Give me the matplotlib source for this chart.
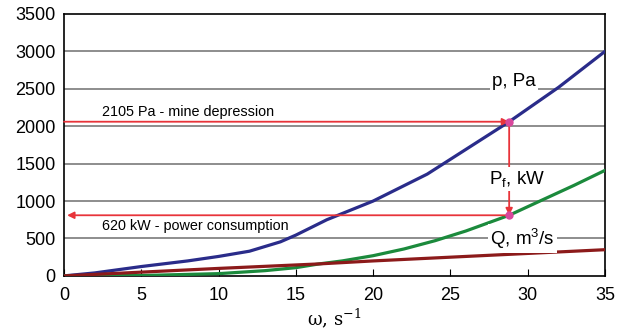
import matplotlib
matplotlib.use("Agg")
from matplotlib import pyplot as plt

plt.rcParams['font.family'] = ['Liberation Sans', 'DejaVu Sans']

# curve data
omega_p = [0, 2, 5, 8, 10, 12, 14, 15, 17, 20, 23.5, 26, 28.8, 32, 35]
p_pa = [0, 40, 125, 200, 260, 330, 455, 545, 750, 1000, 1360, 1690, 2060, 2520, 3000]

omega_pf = [0, 5, 10, 13, 15, 16.5, 18, 20, 22, 24, 26, 28.8, 31, 33, 35]
pf_kw = [0, 5, 30, 70, 110, 160, 200, 270, 360, 470, 600, 810, 1020, 1210, 1410]

omega_q = [0, 10, 16.5, 20, 35]
q_m3s = [0, 100, 160, 200, 350]

# operating point
op_omega = 28.8
op_p = 2060
op_pf = 810

x_ticks = [0, 5, 10, 15, 20, 25, 30, 35]
y_ticks = [0, 500, 1000, 1500, 2000, 2500, 3000, 3500]

fig = plt.figure(figsize=(6.25, 3.32), dpi=100)
ax = fig.add_axes([0.1024, 0.169, 0.8656, 0.789])

for y in y_ticks[1:-1]:
    ax.axhline(y, color='#7a7a7a', lw=1.2, zorder=1)

ax.plot(omega_p, p_pa, color='#2a2c8a', lw=2.3, zorder=3)
ax.plot(omega_pf, pf_kw, color='#1b8a3c', lw=2.3, zorder=3)
ax.plot(omega_q, q_m3s, color='#8c1a1a', lw=2.3, zorder=3)

red = '#e8343a'
arrow = dict(arrowstyle='-|>', color=red, lw=1.3, shrinkA=0, shrinkB=0, mutation_scale=10)
ax.annotate('', xy=(op_omega, op_p), xytext=(0, op_p), arrowprops=arrow, zorder=4)
ax.annotate('', xy=(op_omega, op_pf), xytext=(op_omega, op_p), arrowprops=arrow, zorder=4)
ax.annotate('', xy=(0.2, op_pf), xytext=(op_omega, op_pf), arrowprops=arrow, zorder=4)
ax.plot([op_omega, op_omega], [op_p, op_pf], 'o', color='#d8479c', ms=5, zorder=6)

ax.text(2.45, 2190, '2105 Pa - mine depression', fontsize=10.4, va='center', ha='left')
ax.text(2.45, 660, '620 kW - power consumption', fontsize=10.4, va='center', ha='left')

box = dict(facecolor='white', edgecolor='none', pad=1.5)
ax.text(29.1, 2600, 'p, Pa', fontsize=13.5, ha='center', va='center', bbox=box, zorder=5)
ax.text(29.3, 1290, '$\\mathregular{P_f}$, kW', fontsize=13.5, ha='center', va='center',
        bbox=box, zorder=5)
ax.text(29.65, 500, 'Q, m$\\mathregular{^3}$/s', fontsize=13.5, ha='center', va='center',
        bbox=box, zorder=5)

ax.set_xlim(0, 35)
ax.set_ylim(0, 3500)
ax.set_xticks(x_ticks)
ax.set_yticks(y_ticks)
ax.tick_params(axis='x', direction='in', length=5, labelsize=13, pad=8)
ax.tick_params(axis='y', length=0, labelsize=13, pad=6)
for s in ax.spines.values():
    s.set_linewidth(1.2)
ax.set_xlabel('ω, s$\\mathregular{^{-1}}$', fontsize=13, family=['DejaVu Serif'], labelpad=2)

fig.savefig('out.png', dpi=100)
